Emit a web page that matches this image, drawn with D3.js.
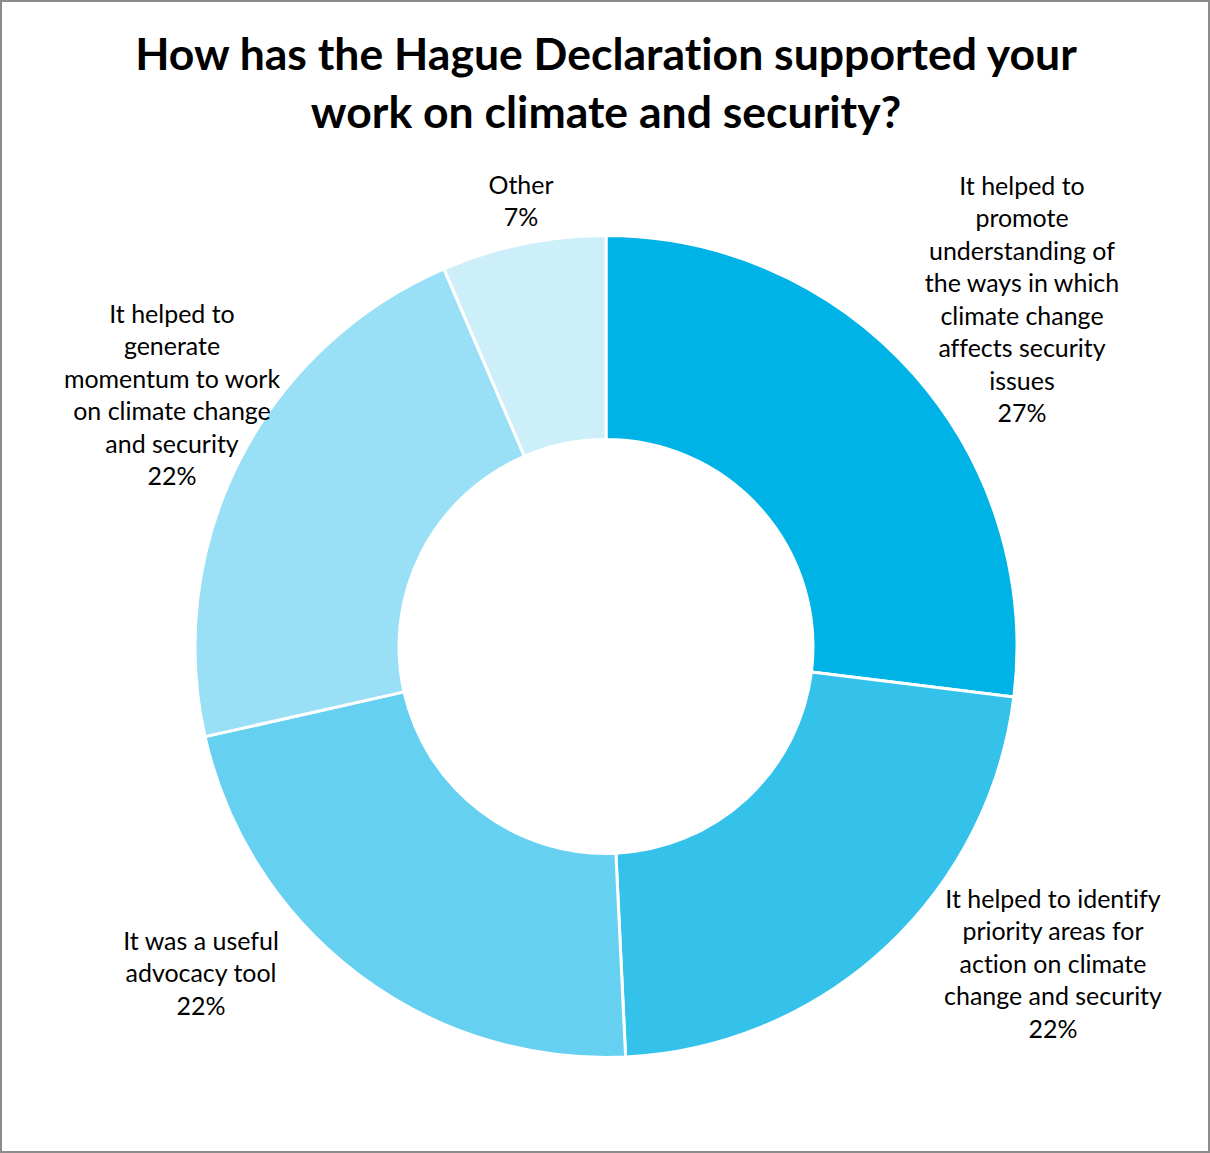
<!DOCTYPE html>
<html><head><meta charset="utf-8">
<script src="https://cdn.jsdelivr.net/npm/d3@7"></script>
<style>html,body{margin:0;padding:0;background:#fff;}svg{display:block;}text{font-variant-ligatures:none;font-feature-settings:"liga" 0,"clig" 0;}</style>
</head><body>
<svg id="chart" width="1210" height="1153"></svg>
<script>
// ---- data ----
const titleLines = ["How has the Hague Declaration supported your", "work on climate and security?"];
const categories = [
  "It helped to promote understanding of the ways in which climate change affects security issues",
  "It helped to identify priority areas for action on climate change and security",
  "It was a useful advocacy tool",
  "It helped to generate momentum to work on climate change and security",
  "Other"
];
const values = [26.96, 22.28, 22.24, 22.07, 6.45];
const percentLabels = ["27%", "22%", "22%", "22%", "7%"];
const labelLines = [
  ["It helped to", "promote", "understanding of", "the ways in which", "climate change", "affects security", "issues"],
  ["It helped to identify", "priority areas for", "action on climate", "change and security"],
  ["It was a useful", "advocacy tool"],
  ["It helped to", "generate", "momentum to work", "on climate change", "and security"],
  ["Other"]
];
const colors = ["#00b3e6", "#34c2eb", "#66d0f0", "#99dff5", "#cceff9"];

// ---- layout (not data) ----
const W = 1210, H = 1153;
const cx = 606, cy = 646.5, rOuter = 411, rInner = 207;
const labelAnchors = [[1022, 186], [1053, 899], [201, 941], [172, 314], [521, 185]]; // center x, first line middle y
const lineH = 32.5;
const fontFam = "Lato, 'Noto Sans', 'DejaVu Sans', sans-serif";

const svg = d3.select("#chart");
svg.append("rect").attr("x", 1).attr("y", 1).attr("width", W - 2).attr("height", H - 2)
  .attr("fill", "#fff").attr("stroke", "#8c8c8c").attr("stroke-width", 2);

// measure helper
function measure(text, size, weight) {
  const t = svg.append("text").attr("font-family", fontFam).attr("font-size", size)
    .attr("font-weight", weight).text(text);
  const w = t.node().getComputedTextLength();
  t.remove();
  return w;
}
const titleSize = 40 * 942 / measure(titleLines[0], 40, "bold");
const labelSize = 22 * 186 / measure("understanding of", 22, "normal");

// title
const title = svg.append("text").attr("font-family", fontFam).attr("font-weight", "bold")
  .attr("font-size", titleSize).attr("fill", "#000").attr("text-anchor", "middle");
titleLines.forEach((l, i) => {
  title.append("tspan").attr("x", 606).attr("y", 54 + i * 58).attr("dy", "0.35em").text(l);
});

// donut
const pie = d3.pie().sort(null).value(d => d).startAngle(0).endAngle(2 * Math.PI);
const arc = d3.arc().innerRadius(rInner).outerRadius(rOuter);
const g = svg.append("g").attr("transform", `translate(${cx},${cy})`);
g.selectAll("path").data(pie(values)).join("path")
  .attr("d", arc)
  .attr("fill", (d, i) => colors[i])
  .attr("stroke", "#fff").attr("stroke-width", 3).attr("stroke-linejoin", "round");

// labels
labelLines.forEach((lines, i) => {
  const all = lines.concat([percentLabels[i]]);
  const t = svg.append("text").attr("font-family", fontFam).attr("font-size", labelSize)
    .attr("fill", "#000").attr("text-anchor", "middle");
  all.forEach((l, j) => {
    t.append("tspan").attr("x", labelAnchors[i][0]).attr("y", labelAnchors[i][1] + j * lineH)
      .attr("dy", "0.35em").text(l);
  });
});
</script>
</body></html>
